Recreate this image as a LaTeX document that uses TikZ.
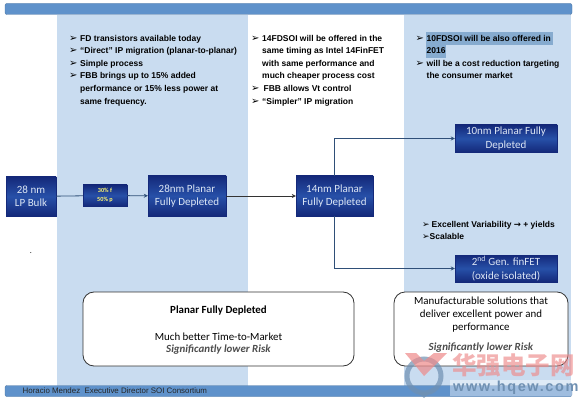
\documentclass[tikz,border=0pt]{standalone}
\usepackage{fontspec}
\setmainfont{Carlito}
\newfontfamily\bulletfont{Liberation Sans}
\newfontfamily\dingfont{DejaVu Sans}
\newfontfamily\sitefont[LetterSpace=11]{Liberation Sans}
\newfontfamily\cjk{Noto Sans CJK SC}
\usetikzlibrary{arrows.meta}
\newcommand{\ding}{\makebox[11pt][l]{\dingfont\fontsize{10}{12}\selectfont\char"27A2}}
\newcommand{\dingtight}{\makebox[9.5pt][l]{\dingfont\fontsize{9}{12}\selectfont\char"27A2}}

\tikzset{
  barfill/.style={fill=barblue, draw=barblue!80!black, rounded corners=2pt},
  colfill/.style={fill=colblue, draw=none},
  stagebox/.style={draw=navyedge, top color=navyedge, bottom color=navyedge, middle color=navymid, text=boxtext, align=center, inner sep=0pt, font=\fontsize{11}{13.5}\selectfont},
  roundbox/.style={draw=black!80, fill=white, thick, rounded corners=11pt, align=center, inner sep=0pt, font=\fontsize{10.9}{13.4}\selectfont},
  notes/.style={anchor=north west, inner sep=0pt, font=\bulletfont\bfseries\fontsize{8.5}{12.6}\selectfont},
  link/.style={draw=linkblue, thick, -{Stealth[length=4pt,width=4pt]}},
  mark text/.style={anchor=west, inner sep=0pt}
}
\definecolor{barblue}{HTML}{5F92CB}
\definecolor{colblue}{HTML}{C9DCF0}
\definecolor{navyedge}{HTML}{14297A}
\definecolor{navymid}{HTML}{2750A8}
\definecolor{boxtext}{HTML}{DCE6F5}
\definecolor{linkblue}{HTML}{2F4F78}
\definecolor{picked}{HTML}{86ABCF}
\definecolor{logoblue}{HTML}{6F90B2}
\definecolor{logored}{HTML}{EE8A8A}

\begin{document}
\begin{tikzpicture}[x=1pt, y=-1pt, >=Stealth]
    \useasboundingbox (0,0) rectangle (580,403);

    % Columnas
    \fill[colfill] (57,15) rectangle (248,386);
    \fill[colfill] (404,15) rectangle (571,386);

    % Barras
    \draw[barfill] (5,3.5) rectangle (572,14.5);
    \draw[barfill] (5,385.5) rectangle (572,396.5);
    \node[mark text, font=\bulletfont\fontsize{7.9}{9}\selectfont, text=black!85] (footer) at (22.5,391) {Horacio Mendez\ \ Executive Director SOI Consortium};

    % Seleccion
    \fill[picked] (426,32.5) rectangle (553,45);
    \fill[picked] (426,45) rectangle (446,58);

    % Textos
    \node[notes] (notesA) at (69,32) {\begin{tabular}{@{}l@{}l@{}}
      \ding & FD transistors available today\\
      \ding & “Direct” IP migration (planar-to-planar)\\
      \ding & Simple process\\
      \ding & FBB brings up to 15\% added\\
            & performance or 15\% less power at\\
            & same frequency.
    \end{tabular}};
    \node[notes] (notesB) at (251,32) {\begin{tabular}{@{}l@{}l@{}}
      \ding & 14FDSOI will be offered in the\\
            & same timing as Intel 14FinFET\\
            & with same performance and\\
            & much cheaper process cost\\
      \ding & \,FBB allows Vt control\\
      \ding & “Simpler” IP migration
    \end{tabular}};
    \node[notes] (notesC) at (415.5,32) {\begin{tabular}{@{}l@{}l@{}}
      \ding & 10FDSOI will be also offered in\\
            & 2016\\
      \ding & will be a cost reduction targeting\\
            & the consumer market
    \end{tabular}};
    \node[notes] (notesD) at (422,218) {\begin{tabular}{@{}l@{}l@{}}
      \dingtight & Excellent Variability {\dingfont\char"2192} + yields\\
      \dingtight & \hspace{-2pt}Scalable
    \end{tabular}};
    \node[inner sep=0pt, font=\fontsize{8}{9}\selectfont] (dotmark) at (31,253) {.};

    % Cajas
    \node[stagebox, minimum width=50pt, minimum height=39pt] (bulk) at (31,196.5) {28 nm\\LP Bulk};
    \node[stagebox, minimum width=44pt, minimum height=21pt, font=\bfseries\fontsize{6.2}{9}\selectfont, text=yellow!55] (gain) at (105,195.5) {30\% f\\50\% p};
    \node[stagebox, minimum width=78pt, minimum height=40pt] (planarA) at (187,196) {28nm Planar\\Fully Depleted};
    \node[stagebox, minimum width=77pt, minimum height=40pt] (planarB) at (334.5,196) {14nm Planar\\Fully Depleted};
    \node[stagebox, minimum width=102pt, minimum height=27pt] (planarC) at (506,138.5) {10nm Planar Fully\\Depleted};
    \node[stagebox, minimum width=102pt, minimum height=27pt] (finfet) at (506,268.5) {2\textsuperscript{nd} Gen. finFET\\(oxide isolated)};

    % Conectores
    \draw[linkblue, thick] (bulk) -- (gain);
    \draw[link] (gain) -- (planarA);
    \draw[link, draw=black!80, thin] (planarA) -- (planarB);
    \draw[link] (planarB.north) |- (planarC.west);
    \draw[link] (planarB.south) |- (finfet.west);

    % Cuadros
    \node[roundbox, minimum width=271pt, minimum height=74pt] (boxA) at (218.5,329) {};
    \node[inner sep=0pt, align=center, font=\fontsize{10.9}{12.2}\selectfont] (boxAtext) at (218.5,330.5) {\textbf{Planar Fully Depleted}\\[14.5pt]Much better Time-to-Market\\{\color{black!70}\textbf{\textit{Significantly lower Risk}}}};
    \node[roundbox, minimum width=174pt, minimum height=74pt] (boxB) at (481,329) {};
    \node[inner sep=0pt, align=center, font=\fontsize{10.9}{13.4}\selectfont] (boxBtext) at (481,324.5) {Manufacturable solutions that\\deliver excellent power and\\performance\\[6.5pt]{\color{black!70}\textbf{\textit{Significantly lower Risk}}}};

    % Marca de agua
    \fill[white, opacity=0.4] (450,380) rectangle (574,396);
    \draw[logoblue, opacity=0.7, line width=5pt] (424,376) circle (17pt);
    \fill[logoblue, opacity=0.7] (417,392) -- (431,392) -- (424,398) -- cycle;
    \fill[logored, opacity=0.7] (405,353) -- (416,353) -- (424,361) -- (434,353) -- (447,353) -- (424,376) -- cycle;
    \node[mark text, font=\cjk\bfseries\fontsize{24.5}{25}\selectfont, text=logored, opacity=0.65] (brand) at (452,365) {华强电子网};
    \node[mark text, font=\sitefont\bfseries\fontsize{14.5}{15}\selectfont, text=logoblue] (site) at (453,388) {www.hqew.com};
\end{tikzpicture}
\end{document}
